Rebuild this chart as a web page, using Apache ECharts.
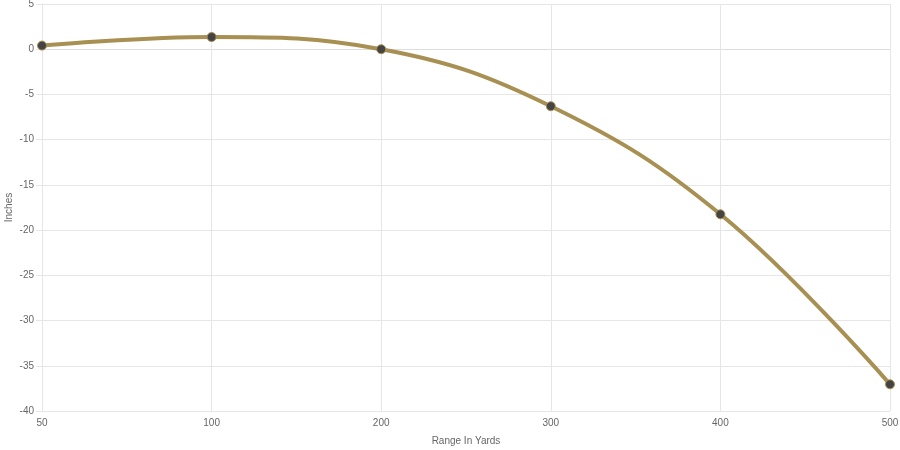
<!DOCTYPE html>
<html><head><meta charset="utf-8">
<script src="https://cdn.jsdelivr.net/npm/echarts@6/dist/echarts.min.js"></script>
<style>html,body{margin:0;padding:0;background:#fff}#c{width:900px;height:450px}</style>
</head><body><div id="c"></div>
<script>
const categories = ['50','100','200','300','400','500'];
const drop = [0.4, 1.35, 0, -6.3, -18.25, -37.05];
const yMin = -40, yMax = 5, yStep = 5;

const chart = echarts.init(document.getElementById('c'), null, {renderer:'canvas'});
const font = 'Liberation Sans, Arial, sans-serif';
chart.setOption({
  animation:false,
  grid:{left:42, right:10, top:4, bottom:39, containLabel:false, outerBoundsMode:'none'},
  xAxis:{
    type:'category', data:categories, boundaryGap:false,
    name:'Range In Yards', nameLocation:'middle', nameGap:25, nameMoveOverlap:false,
    nameTextStyle:{color:'#666', fontSize:10, fontFamily:font},
    axisLine:{lineStyle:{color:'#ddd'}},
    axisTick:{show:true, length:5, lineStyle:{color:'#e6e6e6'}},
    axisLabel:{color:'#666', fontSize:10, fontFamily:font, margin:7},
    splitLine:{show:true, lineStyle:{color:'#e6e6e6'}}
  },
  yAxis:{
    type:'value', min:yMin, max:yMax, interval:yStep,
    name:'Inches', nameLocation:'middle', nameGap:28, nameRotate:90, nameMoveOverlap:false,
    nameTextStyle:{color:'#666', fontSize:10, fontFamily:font},
    axisLine:{show:true, lineStyle:{color:'#e6e6e6'}},
    axisTick:{show:true, length:6, lineStyle:{color:'#e6e6e6'}},
    axisLabel:{color:'#666', fontSize:10, fontFamily:font, margin:8},
    splitLine:{show:true, lineStyle:{color:'#e6e6e6'}}
  },
  series:[{
    type:'line', data:drop, smooth:0.4,
    lineStyle:{color:'#a88f52', width:4},
    itemStyle:{color:'#444', borderColor:'#a88f52', borderWidth:1},
    symbol:'circle', symbolSize:9
  }]
});
</script></body></html>
